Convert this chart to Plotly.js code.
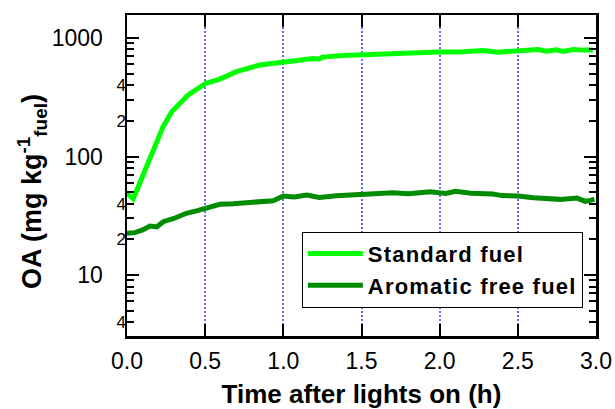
<!DOCTYPE html>
<html>
<head>
<meta charset="utf-8">
<script src="https://cdn.plot.ly/plotly-3.0.1.min.js"></script>
<style>
html,body{margin:0;padding:0;background:#fff;}
#chart{width:615px;height:409px;}
.legendtext{letter-spacing:1.2px;}
</style>
</head>
<body>
<div id="chart"></div>
<script>
// Standard fuel
const stdTime = [0, 0.04, 0.08, 0.135, 0.19, 0.23, 0.286, 0.34, 0.39, 0.445, 0.505, 0.59, 0.70, 0.85, 1.0, 1.12, 1.19, 1.23, 1.25, 1.38, 1.5, 1.62, 1.83, 2.0, 2.15, 2.28, 2.37, 2.5, 2.63, 2.683, 2.747, 2.79, 2.854, 2.918, 2.98];
const stdOA   = [49, 44, 59, 90, 133, 178, 239, 281, 330, 369, 415, 448, 520, 591, 631, 660, 672, 665, 690, 712, 722, 740, 747, 760, 766, 785, 760, 780, 800, 772, 795, 770, 800, 790, 790];
// Aromatic free fuel
const aroTime = [0, 0.05, 0.10, 0.147, 0.19, 0.232, 0.30, 0.38, 0.45, 0.505, 0.594, 0.68, 0.765, 0.85, 0.935, 1.0, 1.07, 1.15, 1.23, 1.34, 1.42, 1.49, 1.60, 1.70, 1.80, 1.94, 2.04, 2.1, 2.2, 2.34, 2.40, 2.5, 2.6, 2.7, 2.77, 2.88, 2.93, 2.99];
const aroOA   = [22.5, 22.8, 24, 25.9, 25.5, 28.2, 30, 33.2, 35, 36.6, 39.5, 40, 41.1, 42, 42.4, 46.4, 45.5, 47.3, 45.2, 46.7, 47.5, 47.3, 48.5, 49.5, 48.5, 50.5, 48.8, 50.8, 49, 48.3, 46.8, 46.5, 44.9, 44.5, 43.5, 44.6, 41.8, 43.5];

// Tick labels
const xTickVals = [0, 0.5, 1.0, 1.5, 2.0, 2.5, 3.0];
const xTickText = ['0.0', '0.5', '1.0', '1.5', '2.0', '2.5', '3.0'];
const yMajorVals = [10, 100, 1000];
const yMajorText = ['10', '100', '1000'];
const yLabeledMinorVals = [4, 20, 40, 200, 400];
const yLabeledMinorText = ['4', '2', '4', '2', '4'];
const yMinorVals = [4, 5, 6, 7, 8, 9, 20, 30, 40, 50, 60, 70, 80, 90, 200, 300, 400, 500, 600, 700, 800, 900];
const yTitle = 'OA (mg kg<sup>-1</sup><sub>fuel</sub>)';

const FONT = 'Liberation Sans, Arial, Helvetica, sans-serif';
const yRange = [Math.log10(3.06), Math.log10(1563)];

const traces = [
  {x: stdTime, y: stdOA, type: 'scatter', mode: 'lines', name: 'Standard fuel',
   line: {color: '#00ff00', width: 5}},
  {x: aroTime, y: aroOA, type: 'scatter', mode: 'lines', name: 'Aromatic free fuel',
   line: {color: '#008c00', width: 5}},
  {x: [1], y: [10], yaxis: 'y2', type: 'scatter', mode: 'none', showlegend: false, hoverinfo: 'skip'}
];

const layout = {
  width: 615, height: 409,
  margin: {l: 127, r: 19, t: 15, b: 73},
  paper_bgcolor: '#fff', plot_bgcolor: '#fff',
  font: {family: FONT, color: '#000'},
  showlegend: true,
  legend: {
    x: 0.972, xanchor: 'right', y: 0.088, yanchor: 'bottom',
    bgcolor: '#fff', bordercolor: '#000', borderwidth: 1,
    font: {family: FONT, size: 22, weight: 'bold', color: '#000'},
    itemwidth: 55, tracegroupgap: 0
  },
  xaxis: {
    range: [0, 3], tickmode: 'array', tickvals: xTickVals, ticktext: xTickText,
    ticks: 'inside', ticklen: 12, tickwidth: 2, tickcolor: '#000',
    showline: true, linewidth: 2.5, linecolor: '#000', mirror: 'ticks',
    showgrid: true, gridcolor: '#6b6bff', gridwidth: 2, griddash: '2px,2px',
    zeroline: false,
    tickfont: {family: FONT, size: 23, color: '#000'},
    ticklabelstandoff: 3,
    title: {text: 'Time after lights on (h)', font: {family: FONT, size: 26, weight: 'bold', color: '#000'}, standoff: 28}
  },
  yaxis: {
    type: 'log', range: yRange, tickmode: 'array', tickvals: yMajorVals, ticktext: yMajorText,
    ticks: 'inside', ticklen: 12, tickwidth: 2, tickcolor: '#000',
    showline: true, linewidth: 2.5, linecolor: '#000', mirror: 'ticks',
    showgrid: false, zeroline: false,
    tickfont: {family: FONT, size: 23, color: '#000'},
    ticklabelstandoff: 17
  },
  yaxis2: {
    type: 'log', range: yRange, overlaying: 'y', side: 'left',
    tickmode: 'array', tickvals: yLabeledMinorVals, ticktext: yLabeledMinorText,
    ticks: 'inside', ticklen: 7, tickwidth: 2, tickcolor: '#000',
    minor: {tickmode: 'array', tickvals: yMinorVals, ticks: 'inside', ticklen: 7, tickwidth: 2, tickcolor: '#000'},
    showline: false, mirror: 'ticks', showgrid: false, zeroline: false,
    tickfont: {family: FONT, size: 17, color: '#000'},
    ticklabelstandoff: 0
  },
  annotations: [{
    text: yTitle, xref: 'paper', yref: 'paper',
    x: -0.2026, y: 0.4517, xanchor: 'center', yanchor: 'middle',
    textangle: -90, showarrow: false,
    font: {family: FONT, size: 27, weight: 'bold', color: '#000'}
  }]
};

Plotly.newPlot('chart', traces, layout, {displayModeBar: false, staticPlot: true});
</script>
</body>
</html>
